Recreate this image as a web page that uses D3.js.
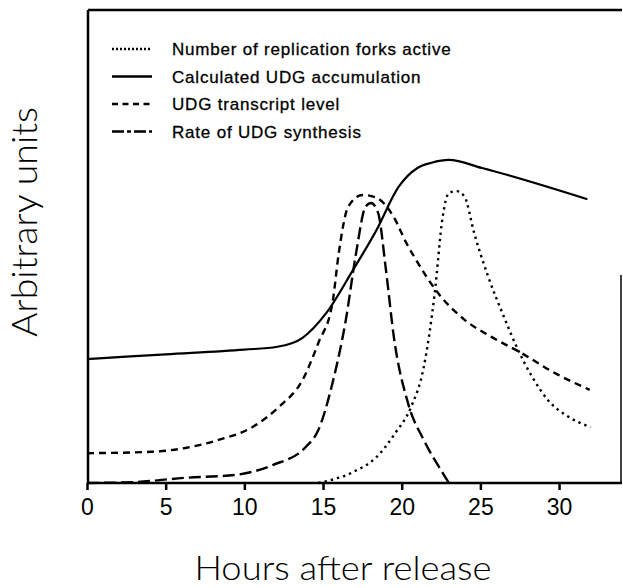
<!DOCTYPE html>
<html>
<head>
<meta charset="utf-8">
<script src="https://cdn.jsdelivr.net/npm/d3@7"></script>
<style>
  html, body { margin: 0; padding: 0; background: #fff; }
  svg { display: block; }
</style>
</head>
<body>
<svg id="chart" width="623" height="588"></svg>
<script>
// ---- data (hours after release, arbitrary units) ----
const xTicks = [0, 5, 10, 15, 20, 25, 30];
const xLabel = "Hours after release";
const yLabel = "Arbitrary units";

const legendLabels = [
  "Number of replication forks active",
  "Calculated UDG accumulation",
  "UDG transcript level",
  "Rate of UDG synthesis"
];

const forksT = [14.7, 16.9, 18.4, 19.6, 20.6, 21.4, 22.1, 22.6, 23.0, 23.5, 24.0, 24.6, 25.5, 26.5, 27.4, 28.3, 29.3, 30.6, 32.0];
const forksV = [0, 2.3, 5.5, 10.6, 16.1, 24.5, 40.2, 56.2, 61.3, 61.7, 60.5, 52.9, 43.6, 35.1, 28.1, 22.4, 17.5, 14.0, 11.8];

const accumT = [0, 5, 10, 12.1, 13.7, 15.2, 16.9, 18.4, 19.8, 21.0, 21.9, 23.0, 25.1, 31.8];
const accumV = [26.2, 27.2, 28.2, 28.8, 30.7, 35.9, 45.0, 53.5, 62.6, 66.6, 67.7, 68.3, 66.6, 60.0];

const transcriptT = [0, 4.1, 6.25, 8.35, 10.5, 12.2, 13.7, 14.7, 15.6, 16.0, 16.6, 17.5, 18.4, 19.5, 20.3, 20.8, 22.3, 24.0, 25.7, 27.6, 29.7, 31.95];
const transcriptV = [6.3, 6.6, 7.4, 9.1, 11.8, 16.1, 21.8, 29.6, 38.1, 48.6, 58.4, 60.9, 60.3, 56.2, 50.7, 47.8, 40.2, 34.5, 30.9, 27.5, 23.3, 19.7];

const rateT = [0, 3.0, 6.25, 9.4, 11.8, 13.9, 14.7, 15.6, 16.45, 17.1, 17.7, 18.05, 18.5, 19.0, 19.5, 20.4, 21.4, 22.5, 23.0];
const rateV = [0, 0.2, 1.1, 1.7, 3.8, 7.6, 11.2, 21.1, 34.5, 48.6, 58.4, 59.2, 57.1, 45.0, 30.9, 16.9, 9.1, 2.7, 0];

// ---- layout ----
const svg = d3.select("#chart");
const x = d3.scaleLinear().domain([0, 34]).range([87, 622]);
const y = d3.scaleLinear().domain([0, 100]).range([483, 10]);

const styles = [
  { dash: "2.4,4", width: 2.4 },   // forks (dotted)
  { dash: null, width: 2.2 },      // accumulation (solid)
  { dash: "7,5", width: 2.4 },     // transcript (short dash)
  { dash: "12,5", width: 2.4 }     // synthesis rate (long dash)
];
const legendDash = ["2,2", null, "6,4.5", "12,3,4,3"];

const series = [
  forksT.map((t, i) => [t, forksV[i]]),
  accumT.map((t, i) => [t, accumV[i]]),
  transcriptT.map((t, i) => [t, transcriptV[i]]),
  rateT.map((t, i) => [t, rateV[i]])
];

const line = d3.line()
  .x(d => x(d[0]))
  .y(d => y(d[1]))
  .curve(d3.curveMonotoneX);

series.forEach((s, i) => {
  svg.append("path")
    .attr("d", line(s))
    .attr("fill", "none")
    .attr("stroke", "#000")
    .attr("stroke-width", styles[i].width)
    .attr("stroke-dasharray", styles[i].dash);
});

// ---- frame ----
const frame = svg.append("g").attr("stroke", "#000").attr("stroke-width", 2.5).attr("fill", "none");
frame.append("line").attr("x1", 88).attr("x2", 88).attr("y1", y(100)).attr("y2", y(0));
frame.append("line").attr("x1", 88).attr("x2", x(34)).attr("y1", y(100)).attr("y2", y(100));
frame.append("line").attr("x1", x(34) - 1).attr("x2", x(34) - 1).attr("y1", 275).attr("y2", y(0)).attr("stroke-width", 1.5);

// ---- x axis ----
const xAxis = d3.axisBottom(x).tickValues(xTicks).tickSize(7).tickSizeOuter(0).tickPadding(9);
const gx = svg.append("g").attr("transform", `translate(0,${y(0)})`).call(xAxis);
gx.select(".domain").attr("stroke", "#000").attr("stroke-width", 2.5)
  .attr("d", `M88,0H${x(34)}`);
gx.selectAll(".tick line").attr("stroke", "#000").attr("stroke-width", 2.5);
gx.selectAll(".tick text")
  .attr("fill", "#000")
  .style("font-family", "'Liberation Sans', Arial, sans-serif")
  .style("font-size", "23px");

// ---- legend ----
const lg = svg.append("g");
legendLabels.forEach((lab, i) => {
  const by = 55 + i * 27.5;
  lg.append("line")
    .attr("x1", 112).attr("x2", 152)
    .attr("y1", by - 6).attr("y2", by - 6)
    .attr("stroke", "#000")
    .attr("stroke-width", 2.4)
    .attr("stroke-dasharray", legendDash[i]);
  lg.append("text")
    .attr("x", 172).attr("y", by)
    .attr("fill", "#000")
    .attr("stroke", "#000")
    .attr("stroke-width", 0.3)
    .style("font-family", "'Liberation Sans', Arial, sans-serif")
    .style("font-size", "17px")
    .style("letter-spacing", "0.8px")
    .text(lab);
});

// ---- axis titles ----
svg.append("text")
  .attr("x", 343).attr("y", 580)
  .attr("text-anchor", "middle")
  .attr("fill", "#000")
  .attr("textLength", 297).attr("lengthAdjust", "spacingAndGlyphs")
  .style("font-family", "Lato, 'Open Sans', sans-serif")
  .style("font-weight", 300)
  .style("font-size", "34px")
  .text(xLabel);

svg.append("text")
  .attr("transform", "translate(37,222) rotate(-90)")
  .attr("text-anchor", "middle")
  .attr("fill", "#000")
  .attr("textLength", 230).attr("lengthAdjust", "spacingAndGlyphs")
  .style("font-family", "Lato, 'Open Sans', sans-serif")
  .style("font-weight", 300)
  .style("font-size", "35px")
  .text(yLabel);
</script>
</body>
</html>
